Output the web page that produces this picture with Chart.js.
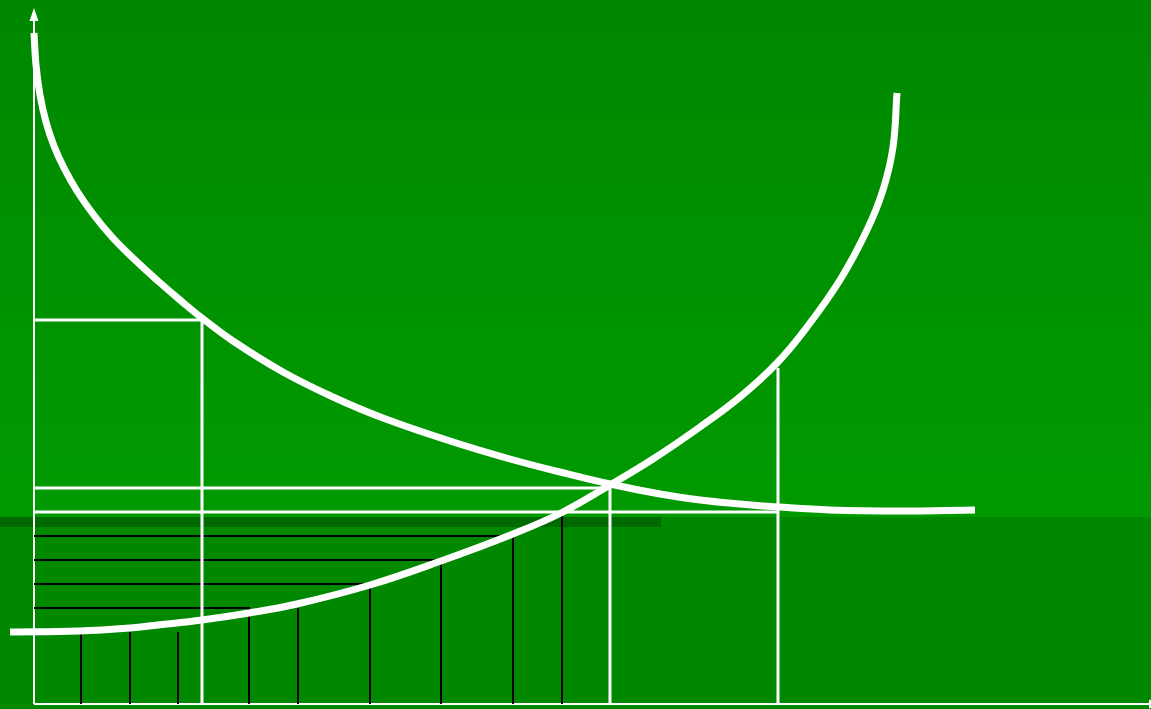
<!DOCTYPE html>
<html>
<head>
<meta charset="utf-8">
<script src="https://cdn.jsdelivr.net/npm/chart.js@4"></script>
<style>
  html, body { margin: 0; padding: 0; background: #008800; overflow: hidden; }
  #wrap { width: 1151px; height: 709px; }
</style>
</head>
<body>
<div id="wrap"><canvas id="chart" width="1151" height="709"></canvas></div>
<script>
const fallingX = [0, 2, 6, 12, 20, 30, 43, 59, 78, 100, 124, 146, 168, 199, 249, 299, 349, 416, 476, 526, 576, 626, 666, 706, 744, 796, 866, 941];
const fallingY = [671, 639, 609, 582, 558, 536, 513, 490, 467, 445, 423, 404, 386, 363, 332, 307, 286, 263, 245, 232, 220, 210, 204, 200, 197, 194, 193, 194];

const risingX = [-24, 45, 96, 124, 168, 215, 263, 336, 407, 479, 527, 576, 619, 666, 706, 743, 773, 806, 833, 849, 859, 863];
const risingY = [72, 73, 76, 79, 84, 91, 100, 119, 143, 170, 191, 219, 245, 277, 307, 341, 377, 424, 474, 514, 557, 611];

// black steps: level and where it meets the rising curve
const stepLevels = [168, 144, 120, 96];
const stepEnds = [479, 407, 336, 215];

// black verticals without a step
const tickX = [47, 96, 144, 264, 528];
const tickTop = [72, 72, 72, 96, 190];

// white guide lines
const guideLevels = [384, 216];
const guideEnds = [168, 576];
const floorLevel = 192;
const floorEnd = 744;
const postX = 744;
const postTop = 336;

// dark shadow band and background split
const shadeTop = 187;
const shadeBottom = 177;
const shadeEnd = 627;

const gap = { x: null, y: null };

function pairs(xs, ys) {
  return xs.map((v, i) => ({ x: v, y: ys[i] }));
}

const stepPoints = [];
stepLevels.forEach((h, i) => {
  stepPoints.push({ x: 0, y: h }, { x: stepEnds[i], y: h }, { x: stepEnds[i], y: 0 }, gap);
});
tickX.forEach((v, i) => {
  stepPoints.push({ x: v, y: tickTop[i] }, { x: v, y: 0 }, gap);
});

const guidePoints = [];
guideLevels.forEach((h, i) => {
  guidePoints.push({ x: 0, y: h }, { x: guideEnds[i], y: h }, { x: guideEnds[i], y: 0 }, gap);
});
guidePoints.push({ x: 0, y: floorLevel }, { x: floorEnd, y: floorLevel }, gap);
guidePoints.push({ x: postX, y: postTop }, { x: postX, y: 0 });

const backdrop = {
  id: 'backdrop',
  beforeDraw(chart) {
    const { ctx, width, height, scales: { x, y } } = chart;
    const split = y.getPixelForValue(shadeTop);
    const grad = ctx.createLinearGradient(0, 0, 0, split);
    grad.addColorStop(0, '#008800');
    grad.addColorStop(1, '#009a00');
    ctx.save();
    ctx.fillStyle = grad;
    ctx.fillRect(0, 0, width, split);
    ctx.fillStyle = '#008800';
    ctx.fillRect(0, split, width, height - split);
    ctx.fillStyle = '#006a00';
    ctx.fillRect(0, split, x.getPixelForValue(shadeEnd), y.getPixelForValue(shadeBottom) - split);
    ctx.restore();
  },
  beforeDatasetsDraw(chart) {
    const { ctx, scales: { x, y } } = chart;
    const ox = x.getPixelForValue(0);
    const oy = y.getPixelForValue(0);
    const top = y.getPixelForValue(683);
    const right = x.getPixelForValue(1115);
    ctx.save();
    ctx.strokeStyle = '#ffffff';
    ctx.fillStyle = '#ffffff';
    ctx.lineWidth = 2;
    ctx.beginPath();
    ctx.moveTo(ox, oy);
    ctx.lineTo(ox, top);
    ctx.moveTo(ox, oy);
    ctx.lineTo(right, oy);
    ctx.stroke();
    ctx.beginPath();
    ctx.moveTo(ox - 4.5, top);
    ctx.lineTo(ox + 4.5, top);
    ctx.lineTo(ox, top - 13);
    ctx.closePath();
    ctx.fill();
    ctx.beginPath();
    ctx.moveTo(right, oy - 4.5);
    ctx.lineTo(right, oy + 4.5);
    ctx.lineTo(right + 13, oy);
    ctx.closePath();
    ctx.fill();
    ctx.restore();
  }
};

new Chart(document.getElementById('chart'), {
  type: 'scatter',
  data: {
    datasets: [
      {
        label: 'falling',
        data: pairs(fallingX, fallingY),
        showLine: true,
        borderColor: '#ffffff',
        borderWidth: 7,
        tension: 0.4,
        pointRadius: 0,
        order: 0
      },
      {
        label: 'rising',
        data: pairs(risingX, risingY),
        showLine: true,
        borderColor: '#ffffff',
        borderWidth: 7,
        tension: 0.4,
        pointRadius: 0,
        order: 0
      },
      {
        label: 'steps',
        data: stepPoints,
        showLine: true,
        spanGaps: false,
        borderColor: '#000000',
        borderWidth: 2,
        pointRadius: 0,
        order: 2
      },
      {
        label: 'guides',
        data: guidePoints,
        showLine: true,
        spanGaps: false,
        borderColor: '#ffffff',
        borderWidth: 3,
        pointRadius: 0,
        order: 1
      }
    ]
  },
  options: {
    responsive: false,
    animation: false,
    layout: { padding: 0 },
    plugins: {
      legend: { display: false },
      tooltip: { enabled: false }
    },
    scales: {
      x: { type: 'linear', min: -34, max: 1117, display: false },
      y: { type: 'linear', min: -5, max: 704, display: false }
    }
  },
  plugins: [backdrop]
});
</script>
</body>
</html>
